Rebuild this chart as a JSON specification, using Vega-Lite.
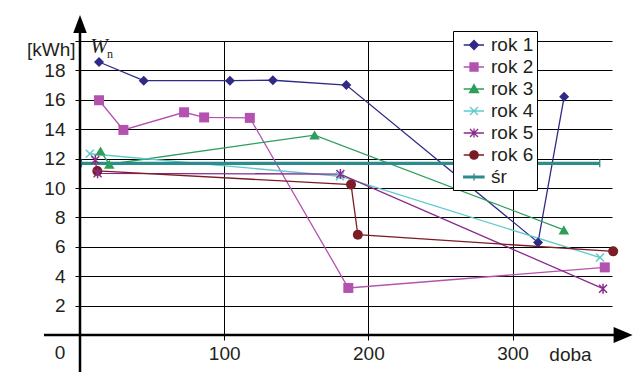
{
  "$schema": "https://vega.github.io/schema/vega-lite/v6.json",
  "width": 532,
  "height": 294,
  "autosize": {"type": "none"},
  "padding": {"left": 80, "top": 41, "right": 27, "bottom": 37},
  "background": "white",
  "config": {
    "view": {"stroke": null},
    "font": "Liberation Sans",
    "legend": {
      "title": null,
      "orient": "none",
      "legendX": 373,
      "legendY": -10,
      "fillColor": "white",
      "strokeColor": "black",
      "strokeWidth": 1,
      "padding": 3,
      "symbolSize": 400,
      "symbolStrokeWidth": 1.3,
      "labelFontSize": 19,
      "labelFont": "Liberation Sans",
      "labelColor": "#231F20",
      "labelOffset": 13,
      "rowPadding": 1.0
    }
  },
  "data": {
    "values": [
      {"series": "rok 1", "doba": 13.2, "kWh": 18.57},
      {"series": "rok 1", "doba": 44.2, "kWh": 17.3},
      {"series": "rok 1", "doba": 104, "kWh": 17.3},
      {"series": "rok 1", "doba": 133.8, "kWh": 17.33},
      {"series": "rok 1", "doba": 184.7, "kWh": 17.0},
      {"series": "rok 1", "doba": 317.7, "kWh": 6.3},
      {"series": "rok 1", "doba": 335.8, "kWh": 16.2},
      {"series": "rok 2", "doba": 13.2, "kWh": 15.97},
      {"series": "rok 2", "doba": 30.1, "kWh": 13.95},
      {"series": "rok 2", "doba": 72.2, "kWh": 15.15},
      {"series": "rok 2", "doba": 86.1, "kWh": 14.8},
      {"series": "rok 2", "doba": 117.8, "kWh": 14.77},
      {"series": "rok 2", "doba": 186.1, "kWh": 3.2},
      {"series": "rok 2", "doba": 364, "kWh": 4.6},
      {"series": "rok 3", "doba": 14.2, "kWh": 12.52},
      {"series": "rok 3", "doba": 20.3, "kWh": 11.62},
      {"series": "rok 3", "doba": 162.7, "kWh": 13.6},
      {"series": "rok 3", "doba": 335.6, "kWh": 7.15},
      {"series": "rok 4", "doba": 6.8, "kWh": 12.33},
      {"series": "rok 4", "doba": 180.3, "kWh": 10.8},
      {"series": "rok 4", "doba": 360.7, "kWh": 5.27},
      {"series": "rok 5", "doba": 10.6, "kWh": 11.9},
      {"series": "rok 5", "doba": 12.2, "kWh": 11.0},
      {"series": "rok 5", "doba": 180.6, "kWh": 10.95},
      {"series": "rok 5", "doba": 362.8, "kWh": 3.15},
      {"series": "rok 6", "doba": 12, "kWh": 11.16},
      {"series": "rok 6", "doba": 188, "kWh": 10.23},
      {"series": "rok 6", "doba": 192.7, "kWh": 6.82},
      {"series": "rok 6", "doba": 369.8, "kWh": 5.69},
      {"series": "śr", "doba": 1, "kWh": 11.68},
      {"series": "śr", "doba": 360.5, "kWh": 11.68}
    ]
  },
  "layer": [
    {
      "mark": {"type": "line", "clip": false},
      "encoding": {
        "x": {
          "field": "doba", "type": "quantitative",
          "scale": {"domain": [0, 369], "nice": false, "zero": false},
          "axis": {
            "values": [100, 200, 300],
            "tickCount": 20,
            "title": "doba", "titleX": 490, "titleY": 19, "titleAlign": "center", "titleBaseline": "middle",
            "titleFontSize": 19, "titleFontWeight": "normal", "titleColor": "#231F20", "titleFont": "Liberation Sans",
            "labelFontSize": 19, "labelColor": "#231F20", "labelPadding": 4, "labelFont": "Liberation Sans",
            "labelOverlap": false,
            "tickSize": 5, "tickColor": "black", "tickWidth": 1,
            "grid": true, "gridColor": "black", "gridWidth": 1, "gridOpacity": 1,
            "domain": false, "labelFlush": false
          }
        },
        "y": {
          "field": "kWh", "type": "quantitative",
          "scale": {"domain": [0, 20], "nice": false, "zero": false},
          "axis": {
            "values": [2, 4, 6, 8, 10, 12, 14, 16, 18, 20],
            "tickCount": 20,
            "labelExpr": "datum.value >= 20 ? '' : datum.label",
            "labelOverlap": false,
            "title": "[kWh]", "titleAngle": 0, "titleAlign": "right", "titleBaseline": "middle",
            "titleX": -5, "titleY": 8,
            "titleFontSize": 19, "titleFontWeight": "normal", "titleColor": "#231F20", "titleFont": "Liberation Sans",
            "labelFontSize": 19, "labelColor": "#231F20", "labelPadding": 10, "labelFont": "Liberation Sans",
            "tickSize": 5, "tickColor": "black", "tickWidth": 1,
            "grid": true, "gridColor": "black", "gridWidth": 1, "gridOpacity": 1,
            "domain": false
          }
        },
        "stroke": {
          "field": "series", "type": "nominal",
          "scale": {
            "domain": ["rok 1", "rok 2", "rok 3", "rok 4", "rok 5", "rok 6", "śr"],
            "range": ["#2E2A85", "#B452B0", "#2E9E5B", "#5FCACA", "#8A2B8C", "#7B1D24", "#2D8C8C"]
          }
        },
        "strokeWidth": {"condition": {"test": "datum.series === 'śr'", "value": 3.2}, "value": 1.3}
      }
    },
    {
      "transform": [{"filter": "datum.kWh > 1000"}],
      "mark": {"type": "point", "filled": true, "strokeWidth": 1.3, "opacity": 1, "clip": false},
      "encoding": {
        "x": {"field": "doba", "type": "quantitative"},
        "y": {"field": "kWh", "type": "quantitative"},
        "fill": {
          "field": "series", "type": "nominal",
          "scale": {
            "domain": ["rok 1", "rok 2", "rok 3", "rok 4", "rok 5", "rok 6", "śr"],
            "range": ["#2E2A85", "#B452B0", "#2E9E5B", "#5FCACA", "#8A2B8C", "#7B1D24", "#2D8C8C"]
          }
        },
        "stroke": {"field": "series", "type": "nominal"},
        "shape": {
          "field": "series", "type": "nominal",
          "scale": {
            "domain": ["rok 1", "rok 2", "rok 3", "rok 4", "rok 5", "rok 6", "śr"],
            "range": [
              "M-0.33,0H1.7M0.7,-0.45L1.15,0L0.7,0.45L0.25,0Z",
              "M-0.33,0H1.7M0.3,-0.4H1.1V0.4H0.3Z",
              "M-0.33,0H1.7M0.7,-0.45L1.15,0.35H0.25Z",
              "M-0.33,0H1.7M0.3,-0.4L1.1,0.4M0.3,0.4L1.1,-0.4",
              "M-0.33,0H1.7M0.3,-0.4L1.1,0.4M0.3,0.4L1.1,-0.4M0.7,-0.45V0.45",
              "M-0.33,0H1.7M1.12,0A0.42,0.42 0 1 1 0.28,0A0.42,0.42 0 1 1 1.12,0Z",
              "M-0.33,-0.09H1.7V0.09H-0.33ZM0.7,-0.35V0.35"
            ]
          }
        }
      }
    },
    {
      "transform": [{"filter": {"field": "series", "equal": "rok 1"}}],
      "mark": {"type": "point", "shape": "diamond", "filled": true, "size": 100, "opacity": 1, "clip": false},
      "encoding": {
        "x": {"field": "doba", "type": "quantitative"},
        "y": {"field": "kWh", "type": "quantitative"},
        "fill": {"field": "series", "type": "nominal"}
      }
    },
    {
      "transform": [{"filter": {"field": "series", "equal": "rok 2"}}],
      "mark": {"type": "point", "shape": "square", "filled": true, "size": 100, "opacity": 1, "clip": false},
      "encoding": {
        "x": {"field": "doba", "type": "quantitative"},
        "y": {"field": "kWh", "type": "quantitative"},
        "fill": {"field": "series", "type": "nominal"}
      }
    },
    {
      "transform": [{"filter": {"field": "series", "equal": "rok 3"}}],
      "mark": {"type": "point", "shape": "triangle-up", "filled": true, "size": 110, "opacity": 1, "clip": false},
      "encoding": {
        "x": {"field": "doba", "type": "quantitative"},
        "y": {"field": "kWh", "type": "quantitative"},
        "fill": {"field": "series", "type": "nominal"}
      }
    },
    {
      "transform": [{"filter": {"field": "series", "equal": "rok 6"}}],
      "mark": {"type": "point", "shape": "circle", "filled": true, "size": 100, "opacity": 1, "clip": false},
      "encoding": {
        "x": {"field": "doba", "type": "quantitative"},
        "y": {"field": "kWh", "type": "quantitative"},
        "fill": {"field": "series", "type": "nominal"}
      }
    },
    {
      "transform": [{"filter": {"field": "series", "equal": "rok 4"}}],
      "mark": {"type": "point", "shape": "M-1,-1L1,1M-1,1L1,-1", "filled": false, "size": 64, "strokeWidth": 1.5, "opacity": 1, "clip": false},
      "encoding": {
        "x": {"field": "doba", "type": "quantitative"},
        "y": {"field": "kWh", "type": "quantitative"},
        "stroke": {"field": "series", "type": "nominal"}
      }
    },
    {
      "transform": [{"filter": {"field": "series", "equal": "rok 5"}}],
      "mark": {"type": "point", "shape": "M-1,-1L1,1M-1,1L1,-1M0,-1.25V1.25", "filled": false, "size": 64, "strokeWidth": 1.5, "opacity": 1, "clip": false},
      "encoding": {
        "x": {"field": "doba", "type": "quantitative"},
        "y": {"field": "kWh", "type": "quantitative"},
        "stroke": {"field": "series", "type": "nominal"}
      }
    },
    {
      "transform": [{"filter": {"field": "series", "equal": "śr"}}],
      "mark": {"type": "point", "shape": "M0,-1V1", "filled": false, "size": 64, "strokeWidth": 1.3, "opacity": 1, "clip": false},
      "encoding": {
        "x": {"field": "doba", "type": "quantitative"},
        "y": {"field": "kWh", "type": "quantitative"},
        "stroke": {"field": "series", "type": "nominal"}
      }
    },
    {
      "data": {"values": [{}]},
      "mark": {"type": "rule", "color": "black", "strokeWidth": 2.5, "clip": false},
      "encoding": {
        "x": {"datum": -25, "type": "quantitative"},
        "x2": {"datum": 376},
        "y": {"datum": 0, "type": "quantitative"}
      }
    },
    {
      "data": {"values": [{}]},
      "mark": {"type": "rule", "color": "black", "strokeWidth": 2.5, "clip": false},
      "encoding": {
        "x": {"datum": 0, "type": "quantitative"},
        "y": {"datum": -2.6, "type": "quantitative"},
        "y2": {"datum": 21}
      }
    },
    {
      "data": {"values": [{}]},
      "mark": {"type": "point", "shape": "M-1,-0.85L1,0L-1,0.85Z", "size": 361, "filled": true, "color": "black", "opacity": 1, "clip": false},
      "encoding": {
        "x": {"datum": 376.7, "type": "quantitative"},
        "y": {"datum": 0, "type": "quantitative"}
      }
    },
    {
      "data": {"values": [{}]},
      "mark": {"type": "point", "shape": "M0,-1L0.75,1L-0.75,1Z", "size": 324, "filled": true, "color": "black", "opacity": 1, "clip": false},
      "encoding": {
        "x": {"datum": 0, "type": "quantitative"},
        "y": {"datum": 21.16, "type": "quantitative"}
      }
    },
    {
      "data": {"values": [{}]},
      "mark": {"type": "text", "fontSize": 19, "font": "Liberation Sans", "color": "#231F20", "dx": -20, "dy": 18, "align": "center", "baseline": "middle", "clip": false},
      "encoding": {
        "x": {"datum": 0, "type": "quantitative"},
        "y": {"datum": 0, "type": "quantitative"},
        "text": {"value": "0"}
      }
    },
    {
      "data": {"values": [{}]},
      "mark": {"type": "text", "fontSize": 21, "font": "Liberation Serif", "fontStyle": "italic", "color": "#231F20", "dx": 19, "dy": 6, "align": "center", "baseline": "middle", "clip": false},
      "encoding": {
        "x": {"datum": 0, "type": "quantitative"},
        "y": {"datum": 20, "type": "quantitative"},
        "text": {"value": "W"}
      }
    },
    {
      "data": {"values": [{}]},
      "mark": {"type": "text", "fontSize": 12, "font": "Liberation Serif", "color": "#231F20", "dx": 30, "dy": 13, "align": "center", "baseline": "middle", "clip": false},
      "encoding": {
        "x": {"datum": 0, "type": "quantitative"},
        "y": {"datum": 20, "type": "quantitative"},
        "text": {"value": "n"}
      }
    }
  ]
}
